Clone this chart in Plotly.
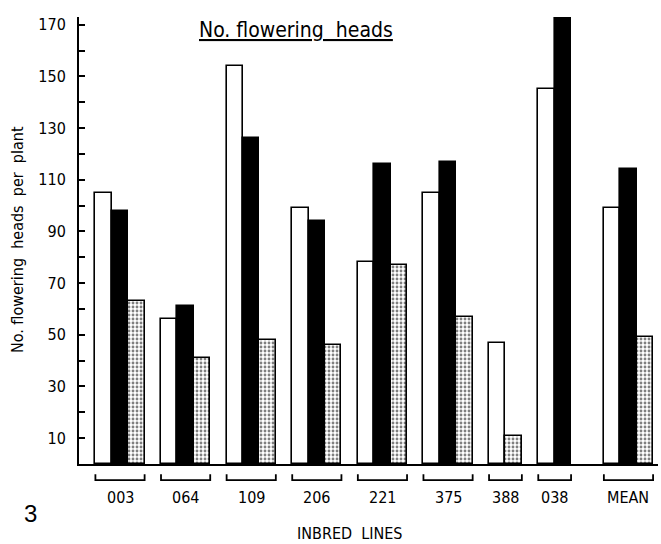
import plotly.graph_objects as go

# Flowering heads per plant for each inbred line, three treatments per line
lines = ["003", "064", "109", "206", "221", "375", "388", "038", "MEAN"]
open_bars = [105, 56, 154, 99, 78, 105, 47, 145, 99]
solid_bars = [98, 61, 126, 94, 116, 117, None, 174, 114]
dotted_bars = [63, 41, 48, 46, 77, 57, 11, None, 49]

y_ticks = list(range(10, 171, 10))
y_tick_text = [str(v) if v % 20 == 10 else "" for v in y_ticks]

W, H = 661, 544
L, R, T, B = 79, 3, 17, 80.2
X_MAX = 35.3   # x axis measured in bar widths
Y_MAX = 173

FONT = "DejaVu Sans Condensed, Liberation Sans Narrow, DejaVu Sans, sans-serif"


def px_to_paper(px):
    return (px - L) / (W - L - R)


def py_to_paper(py):
    return (H - B - py) / (H - T - B)


def x_to_paper(x):
    return x / X_MAX


# Bars of one line sit side by side; one bar-width gap between lines,
# and an extra gap before the overall mean.
series_vals = [open_bars, solid_bars, dotted_bars]
xs = [[] for _ in series_vals]
ys = [[] for _ in series_vals]
spans = []
cursor = 1.0
for i, name in enumerate(lines):
    if name == "MEAN":
        cursor += 1
    start = cursor
    for s, vals in enumerate(series_vals):
        if vals[i] is not None:
            xs[s].append(cursor + 0.5)
            ys[s].append(vals[i])
            cursor += 1
    spans.append((start, cursor))
    cursor += 1

outline = dict(color="black", width=1.6)
styles = [
    dict(color="white", line=outline),
    dict(color="black", line=outline),
    dict(color="white", line=outline,
         pattern=dict(shape=".", fgcolor="black", bgcolor="white",
                      size=4, solidity=0.4, fillmode="overlay")),
]
names = ["open", "solid", "dotted"]

fig = go.Figure()
for s in range(3):
    fig.add_trace(go.Bar(x=xs[s], y=ys[s], width=1, name=names[s],
                         marker=styles[s], cliponaxis=False,
                         showlegend=False, hoverinfo="skip"))

shapes = []
annotations = []
for (a, b), name in zip(spans, lines):
    x0, x1 = x_to_paper(a), x_to_paper(b)
    y_top, y_bot = py_to_paper(474), py_to_paper(480)
    shapes.append(dict(type="path", xref="paper", yref="paper",
                       path=f"M {x0},{y_top} L {x0},{y_bot} L {x1},{y_bot} L {x1},{y_top}",
                       line=dict(color="black", width=1.8)))
    annotations.append(dict(x=(x0 + x1) / 2, y=py_to_paper(497.5),
                            xref="paper", yref="paper", text=name,
                            showarrow=False, xanchor="center", yanchor="middle",
                            font=dict(family=FONT, size=16, color="black")))

annotations += [
    dict(x=px_to_paper(296), y=py_to_paper(30), xref="paper", yref="paper",
         text="<u>No. flowering  heads</u>", showarrow=False,
         xanchor="center", yanchor="middle",
         font=dict(family=FONT, size=21, color="black")),
    dict(x=px_to_paper(17), y=py_to_paper(240), xref="paper", yref="paper",
         text="No. flowering  heads  per  plant", textangle=-90, showarrow=False,
         xanchor="center", yanchor="middle",
         font=dict(family=FONT, size=16, color="black")),
    dict(x=px_to_paper(349), y=py_to_paper(533), xref="paper", yref="paper",
         text="INBRED  LINES", showarrow=False, xanchor="center", yanchor="middle",
         font=dict(family=FONT, size=16, color="black")),
    dict(x=px_to_paper(30), y=py_to_paper(513), xref="paper", yref="paper",
         text="3", showarrow=False, xanchor="center", yanchor="middle",
         font=dict(family="Liberation Sans, Arial, sans-serif", size=24, color="black")),
]

fig.update_layout(
    width=W, height=H,
    margin=dict(l=L, r=R, t=T, b=B, pad=0),
    paper_bgcolor="white", plot_bgcolor="white",
    barmode="overlay", bargap=0,
    shapes=shapes, annotations=annotations,
    xaxis=dict(range=[0, X_MAX], showgrid=False, zeroline=False,
               showticklabels=False, ticks="",
               showline=True, linecolor="black", linewidth=2),
    yaxis=dict(range=[0, Y_MAX], showgrid=False, zeroline=False,
               tickvals=y_ticks, ticktext=y_tick_text,
               ticks="inside", ticklen=6, tickwidth=1.6, tickcolor="black",
               ticklabelstandoff=8,
               tickfont=dict(family=FONT, size=16, color="black"),
               showline=True, linecolor="black", linewidth=2),
)

fig.write_html("out.html")
